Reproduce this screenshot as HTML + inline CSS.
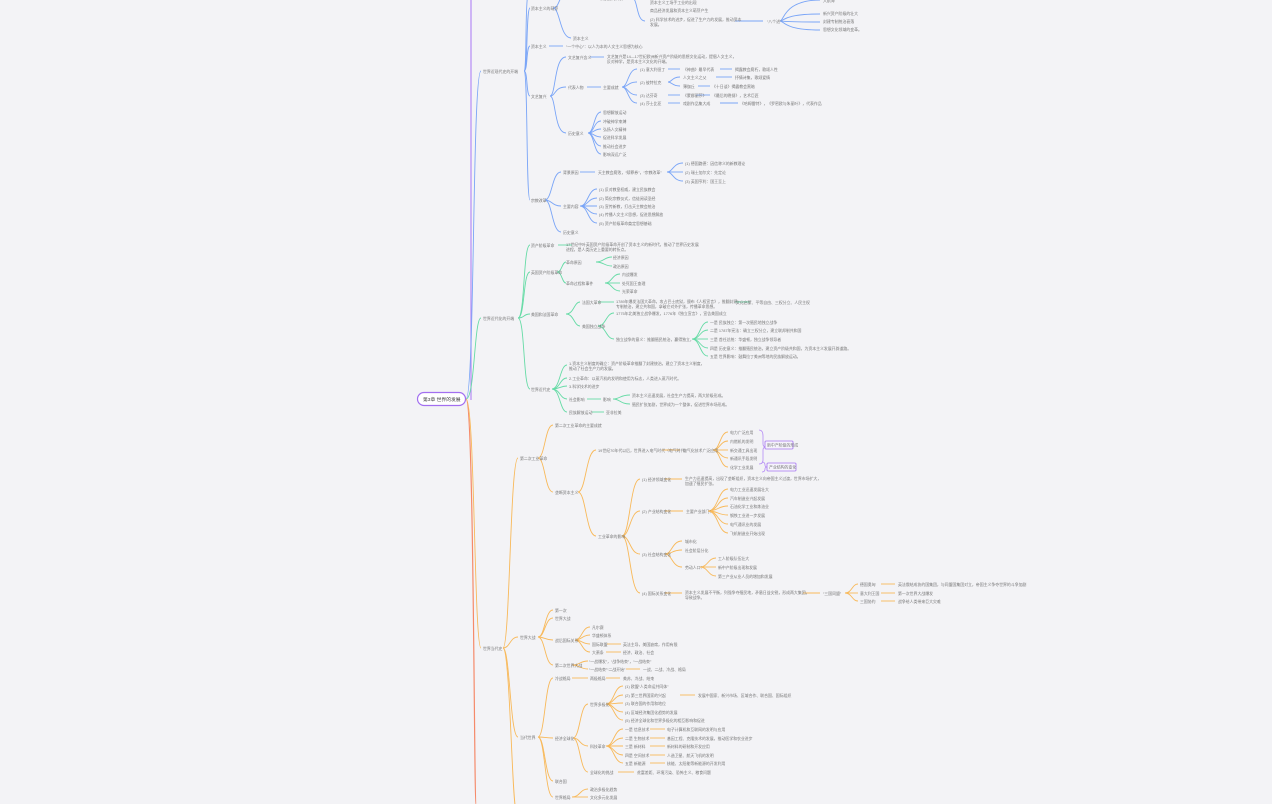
<!DOCTYPE html>
<html><head><meta charset="utf-8"><style>
html,body{margin:0;padding:0;background:#f3f3f6;width:1272px;height:804px;overflow:hidden}
svg text{font-family:"Liberation Sans","Noto Sans CJK SC",sans-serif;font-size:3.9px;fill:#777}
.b path{stroke:#7aa5f7;fill:none;stroke-width:0.9}
.g path{stroke:#66dba6;fill:none;stroke-width:0.9}
.o path{stroke:#f8b95a;fill:none;stroke-width:0.9}
</style></head><body>
<svg width="1272" height="804" viewBox="0 0 1272 804" xmlns="http://www.w3.org/2000/svg">
<path d="M471 0 V400" stroke="#b58cf5" stroke-width="1.2" fill="none"/>
<path d="M466 399 C474 399 474 803 476 804" stroke="#f58a6a" stroke-width="1.2" fill="none"/>
<g class="b">
<path d="M466 399 C475 399 472 71 481 71"/>
<path d="M524 71 C528 71 526 8 530 8"/><path d="M524 71 C528 71 526 46 530 46"/><path d="M524 71 C528 71 526 96 530 96"/><path d="M524 71 C528 71 526 200 530 200"/><path d="M524 71 C527 71 525 0 528 -5"/>
<path d="M553 8 C560 8 558 -5 566 -5"/><path d="M553 8 C560 8 560 38 571 38"/>
<path d="M632 -2 C638 -2 636 21 645 21"/>
<path d="M735 21 H763"/><path d="M780 21 C784 21 784 0 820 0"/><path d="M780 21 C784 21 784 14 820 14"/><path d="M780 21 C784 21 784 22 820 22"/><path d="M780 21 C784 21 784 30 820 30"/>
<path d="M549 46 H563"/>
<path d="M550 96 C556 96 554 57 566 57"/><path d="M550 96 C556 96 554 87 566 87"/><path d="M550 96 C556 96 554 133 566 133"/>
<path d="M590 57 H604"/><path d="M587 87 H601"/>
<path d="M622 87 C628 87 628 69 637 69"/><path d="M622 87 C628 87 628 82 637 82"/><path d="M622 87 C628 87 628 95 637 95"/><path d="M622 87 C628 87 628 103 637 103"/>
<path d="M668 69 H680"/><path d="M720 69 H732"/><path d="M668 82 C672 82 672 77 680 77"/><path d="M668 82 C672 82 672 86 680 86"/><path d="M716 77 H732"/><path d="M698 86 H710"/><path d="M668 95 H680"/><path d="M696 95 H710"/><path d="M668 103 H680"/><path d="M720 103 H738"/>
<path d="M588 133 C594 133 594 112 601 112"/><path d="M588 133 C594 133 594 121 601 121"/><path d="M588 133 C594 133 594 129 601 129"/><path d="M588 133 C594 133 594 137 601 137"/><path d="M588 133 C594 133 594 146 601 146"/><path d="M588 133 C594 133 594 154 601 154"/>
<path d="M545 200 C552 200 552 172 561 172"/><path d="M545 200 C552 200 552 206 561 206"/><path d="M545 200 C552 200 552 232 561 232"/>
<path d="M580 172 H595"/><path d="M667 172 C673 172 673 163 683 163"/><path d="M667 172 H683"/><path d="M667 172 C673 172 673 181 683 181"/>
<path d="M580 206 C588 206 588 189 597 189"/><path d="M580 206 C588 206 588 198 597 198"/><path d="M580 206 H597"/><path d="M580 206 C588 206 588 214 597 214"/><path d="M580 206 C588 206 588 223 597 223"/>
</g>
<g class="g">
<path d="M466 399 C475 399 474 318 481 318"/>
<path d="M518 318 C525 318 523 245 530 245"/><path d="M518 318 C525 318 523 272 530 272"/><path d="M518 318 C525 318 523 314 530 314"/><path d="M518 318 C525 318 523 389 530 389"/>
<path d="M558 245 H572"/>
<path d="M557 272 C562 272 562 262 566 262"/><path d="M557 272 C562 272 562 283 566 283"/>
<path d="M596 262 C604 262 604 257 612 257"/><path d="M596 262 C604 262 604 266 612 266"/>
<path d="M605 283 C612 283 612 274 620 274"/><path d="M605 283 H620"/><path d="M605 283 C612 283 612 291 620 291"/>
<path d="M566 314 C574 314 574 302 580 302"/><path d="M566 314 C574 314 574 326 580 326"/>
<path d="M598 302 C606 302 606 302 614 302"/><path d="M735 302 H750"/>
<path d="M598 326 C606 326 606 313 614 313"/><path d="M598 326 C606 326 606 339 614 339"/>
<path d="M692 339 C700 339 700 322 708 322"/><path d="M692 339 C700 339 700 330 708 330"/><path d="M692 339 H708"/><path d="M692 339 C700 339 700 348 708 348"/><path d="M692 339 C700 339 700 356 708 356"/>
<path d="M552 389 C560 389 560 365 567 365"/><path d="M552 389 C560 389 560 378 567 378"/><path d="M552 389 C560 389 560 386 567 386"/><path d="M552 389 C560 389 560 399 567 399"/><path d="M552 389 C560 389 560 412 567 412"/>
<path d="M587 399 H601"/><path d="M613 399 C620 399 620 395 630 395"/><path d="M613 399 C620 399 620 404 630 404"/><path d="M592 412 H604"/>
</g>
<g class="o">
<path d="M466 399 C475 399 474 648 481 648"/>
<path d="M503 648 C510 648 510 458 518 458"/><path d="M503 648 C510 648 510 637 518 637"/><path d="M503 648 C510 648 510 737 518 737"/><path d="M503 648 C510 648 512 804 516 810"/>
<path d="M538 458 C545 458 545 425 553 425"/><path d="M538 458 C545 458 545 492 553 492"/>
<path d="M578 492 C586 492 586 450 596 450"/><path d="M578 492 C586 492 586 536 596 536"/>
<path d="M662 450 H680"/>
<path d="M713 450 C720 450 720 432 728 432"/><path d="M713 450 C720 450 720 441 728 441"/><path d="M713 450 H728"/><path d="M713 450 C720 450 720 458 728 458"/><path d="M713 450 C720 450 720 467 728 467"/>
<path d="M622 536 C630 536 630 479 640 479"/><path d="M622 536 C630 536 630 511 640 511"/><path d="M622 536 C630 536 630 554 640 554"/><path d="M622 536 C630 536 630 593 640 593"/>
<path d="M665 479 H682"/><path d="M665 511 H683"/><path d="M665 554 C672 554 672 541 682 541"/><path d="M665 554 C672 554 672 550 682 550"/><path d="M665 554 C672 554 672 567 682 567"/>
<path d="M708 511 C718 511 718 489 728 489"/><path d="M708 511 C718 511 718 498 728 498"/><path d="M708 511 C718 511 718 506 728 506"/><path d="M708 511 C718 511 718 515 728 515"/><path d="M708 511 C718 511 718 524 728 524"/><path d="M708 511 C718 511 718 533 728 533"/>
<path d="M700 567 C708 567 708 558 716 558"/><path d="M700 567 H716"/><path d="M700 567 C708 567 708 576 716 576"/>
<path d="M665 593 H682"/><path d="M803 593 H820"/><path d="M845 593 C852 593 852 584 858 584"/><path d="M845 593 H858"/><path d="M845 593 C852 593 852 601 858 601"/>
<path d="M881 584 H895"/><path d="M881 593 H895"/><path d="M881 601 H895"/>
<path d="M538 637 C545 637 545 610 553 610"/><path d="M538 637 C545 637 545 618 553 618"/><path d="M538 637 C545 637 545 640 553 640"/><path d="M538 637 C545 637 545 665 553 665"/>
<path d="M575 640 C582 640 582 627 590 627"/><path d="M575 640 C582 640 582 635 590 635"/><path d="M575 640 C582 640 582 644 590 644"/><path d="M575 640 C582 640 582 652 590 652"/>
<path d="M607 644 H621"/><path d="M606 652 H621"/>
<path d="M572 665 C580 665 580 661 588 661"/><path d="M572 665 C580 665 580 669 588 669"/><path d="M626 669 H640"/>
<path d="M538 737 C545 737 545 678 553 678"/><path d="M538 737 C545 737 545 738 553 738"/><path d="M538 737 C545 737 545 781 553 781"/><path d="M538 737 C545 737 545 797 553 797"/>
<path d="M572 678 H588"/><path d="M606 678 H620"/>
<path d="M573 738 C580 738 580 704 588 704"/><path d="M573 738 C580 738 580 746 588 746"/><path d="M573 738 C580 738 580 772 588 772"/>
<path d="M606 704 C614 704 614 686 623 686"/><path d="M606 704 C614 704 614 695 623 695"/><path d="M606 704 C614 704 614 703 623 703"/><path d="M606 704 C614 704 614 712 623 712"/><path d="M606 704 C614 704 614 720 623 720"/>
<path d="M680 695 H695"/>
<path d="M606 746 C614 746 614 729 623 729"/><path d="M606 746 C614 746 614 738 623 738"/><path d="M606 746 H623"/><path d="M606 746 C614 746 614 755 623 755"/><path d="M606 746 C614 746 614 763 623 763"/>
<path d="M650 729 H665"/><path d="M650 738 H665"/><path d="M650 746 H665"/><path d="M650 755 H665"/><path d="M650 763 H665"/>
<path d="M618 772 H634"/>
<path d="M572 797 C580 797 580 789 588 789"/><path d="M572 797 H588"/>
</g>
<path d="M759 430 Q763 430 763 436 V444 Q763 447 766 447 Q763 447 763 450 V460 Q763 464 759 464" stroke="#b58cf5" fill="none" stroke-width="0.8"/>
<path d="M762 462 Q765 462 765 465 Q765 467 767 467 Q765 467 765 469 Q765 472 762 472" stroke="#b58cf5" fill="none" stroke-width="0.8"/>
<rect x="765" y="441" width="28" height="8" rx="1" fill="#f5f3fb" stroke="#a675f0" stroke-width="0.8"/>
<rect x="767" y="463" width="29" height="8" rx="1" fill="#f5f3fb" stroke="#a675f0" stroke-width="0.8"/>
<text x="767" y="446.5">新中产阶级的形成</text>
<text x="769" y="468.5">产业结构的变化</text>
<rect x="417.5" y="392.5" width="48" height="13" rx="6.5" fill="#fff" stroke="#a26ff0" stroke-width="1.2"/>
<text x="423" y="401" style="font-size:4.8px;fill:#444">第3章 世界的发展</text>
<g>
<text x="483" y="73">世界近现代史的开端</text>
<text x="531" y="10">资本主义的萌芽</text><text x="600" y="0">新航路的开辟</text>
<text x="650" y="4">资本主义工场手工业的出现</text><text x="650" y="12">商品经济发展和资本主义萌芽产生</text>
<text x="650" y="21">(2) 科学技术的进步，促进了生产力的发展，推动资本</text><text x="650" y="26">发展。</text>
<text x="767" y="23">“八个进”</text>
<text x="823" y="2">大航海</text><text x="823" y="15">新兴资产阶级的壮大</text><text x="823" y="23">封建专制统治衰落</text><text x="823" y="31">思想文化领域的变革。</text>
<text x="573" y="40">资本主义</text>
<text x="531" y="48">资本主义</text><text x="566" y="48">“一个中心”：以人为本的人文主义思想为核心</text>
<text x="531" y="98">文艺复兴</text>
<text x="568" y="59">文艺复兴含义</text><text x="607" y="58">文艺复兴是14—17世纪欧洲新兴资产阶级的思想文化运动，提倡人文主义，</text><text x="607" y="63">反对神学，是资本主义文化的开端。</text>
<text x="568" y="89">代表人物</text><text x="603" y="89">主要成就</text>
<text x="640" y="71">(1) 意大利但丁</text><text x="683" y="71">《神曲》最早代表</text><text x="735" y="71">揭露教会腐朽，歌颂人性</text>
<text x="640" y="84">(2) 彼特拉克</text><text x="683" y="79">人文主义之父</text><text x="735" y="79">抒情诗集，歌颂爱情</text><text x="683" y="88">薄伽丘</text><text x="712" y="88">《十日谈》揭露教会黑暗</text>
<text x="640" y="97">(3) 达芬奇</text><text x="683" y="97">《蒙娜丽莎》</text><text x="712" y="97">《最后的晚餐》，艺术巨匠</text>
<text x="640" y="105">(4) 莎士比亚</text><text x="683" y="105">戏剧作品集大成</text><text x="740" y="105">《哈姆雷特》，《罗密欧与朱丽叶》，代表作品</text>
<text x="568" y="135">历史意义</text>
<text x="603" y="114">思想解放运动</text><text x="603" y="123">冲破神学束缚</text><text x="603" y="131">弘扬人文精神</text><text x="603" y="139">促进科学发展</text><text x="603" y="148">推动社会进步</text><text x="603" y="156">影响深远广泛</text>
<text x="531" y="202">宗教改革</text>
<text x="563" y="174">背景原因</text><text x="598" y="174">天主教会腐败，“赎罪券”，“宗教改革”</text>
<text x="685" y="165">(1) 德国路德：因信称义的新教理论</text><text x="685" y="174">(2) 瑞士加尔文：先定论</text><text x="685" y="183">(3) 英国亨利：国王至上</text>
<text x="563" y="208">主要内容</text>
<text x="599" y="191">(1) 反对教皇权威，建立民族教会</text><text x="599" y="200">(2) 简化宗教仪式，信徒阅读圣经</text><text x="599" y="208">(3) 宣传新教，打击天主教会统治</text><text x="599" y="216">(4) 传播人文主义思想，促进思想解放</text><text x="599" y="225">(5) 资产阶级革命奠定思想基础</text>
<text x="563" y="234">历史意义</text>
</g>
<g>
<text x="483" y="320">世界近代化的开端</text>
<text x="531" y="247">资产阶级革命</text><text x="566" y="246">17世纪中叶英国资产阶级革命开创了资本主义的新时代，推动了世界历史发展</text><text x="566" y="251">进程，是人类历史上重要的转折点。</text>
<text x="531" y="274">英国资产阶级革命</text>
<text x="566" y="264">革命原因</text><text x="613" y="259">经济原因</text><text x="613" y="268">政治原因</text>
<text x="566" y="285">革命过程和事件</text><text x="622" y="276">内战爆发</text><text x="622" y="285">处死国王查理</text><text x="622" y="293">光荣革命</text>
<text x="531" y="316">美国和法国革命</text>
<text x="582" y="304">法国大革命</text><text x="616" y="303">1789年爆发法国大革命，攻占巴士底狱，颁布《人权宣言》，推翻封建</text><text x="616" y="308">专制统治，建立共和国，拿破仑对外扩张，传播革命思想。</text>
<text x="736" y="304">文化启蒙、平等自由、三权分立、人民主权</text>
<text x="582" y="328">美国独立战争</text><text x="616" y="315">1775年北美独立战争爆发，1776年《独立宣言》，宣告美国成立</text>
<text x="616" y="341">独立战争的意义：推翻殖民统治，赢得独立，</text>
<text x="710" y="324">一是 民族独立：第一次殖民地独立战争</text><text x="710" y="332">二是 1787年宪法：确立三权分立，建立联邦制共和国</text><text x="710" y="341">三是 首任总统：华盛顿，独立战争领导者</text><text x="710" y="350">四是 历史意义：推翻殖民统治，建立资产阶级共和国，为资本主义发展开辟道路。</text><text x="710" y="358">五是 世界影响：鼓舞拉丁美洲等地的民族解放运动。</text>
<text x="531" y="391">世界近代史</text>
<text x="569" y="365">1.资本主义制度的确立：资产阶级革命推翻了封建统治，建立了资本主义制度，</text><text x="569" y="370">推动了社会生产力的发展。</text>
<text x="569" y="380">2.工业革命：以蒸汽机的发明和使用为标志，人类进入蒸汽时代。</text><text x="569" y="388">3.科学技术的进步</text>
<text x="569" y="401">社会影响</text><text x="603" y="401">影响</text><text x="632" y="397">资本主义迅速发展，社会生产力提高，两大阶级形成。</text><text x="632" y="406">殖民扩张加剧，世界成为一个整体，促进世界市场形成。</text>
<text x="569" y="414">民族解放运动</text><text x="606" y="414">亚非拉美</text>
</g>
<g>
<text x="483" y="650">世界当代史</text>
<text x="520" y="460">第二次工业革命</text>
<text x="555" y="427">第二次工业革命的主要成就</text>
<text x="555" y="494">垄断资本主义</text>
<text x="598" y="452">19世纪70年代以后，世界进入电气时代（电气时代）</text><text x="683" y="452">电气化技术广泛应用</text>
<text x="730" y="434">电力广泛应用</text><text x="730" y="443">内燃机的发明</text><text x="730" y="452">新交通工具出现</text><text x="730" y="460">新通讯手段发明</text><text x="730" y="469">化学工业发展</text>
<text x="598" y="538">工业革命的影响</text>
<text x="642" y="481">(1) 经济领域变化</text><text x="685" y="480">生产力迅速提高，出现了垄断组织，资本主义向帝国主义过渡，世界市场扩大，</text><text x="685" y="485">加速了殖民扩张。</text>
<text x="642" y="513">(2) 产业结构变化</text><text x="686" y="513">主要产业部门：</text>
<text x="730" y="491">电力工业迅速发展壮大</text><text x="730" y="500">汽车制造业兴起发展</text><text x="730" y="508">石油化学工业和炼油业</text><text x="730" y="517">钢铁工业进一步发展</text><text x="730" y="526">电气通讯业的发展</text><text x="730" y="535">飞机制造业开始出现</text>
<text x="642" y="556">(3) 社会结构变化</text><text x="685" y="543">城市化</text><text x="685" y="552">社会阶层分化</text><text x="685" y="569">劳动人口：</text>
<text x="718" y="560">工人阶级队伍壮大</text><text x="718" y="569">新中产阶级出现和发展</text><text x="718" y="578">第三产业从业人员的增加和发展</text>
<text x="642" y="595">(4) 国际关系变化</text><text x="685" y="594">资本主义发展不平衡，列强争夺殖民地，矛盾日益尖锐，形成两大集团，</text><text x="685" y="599">导致战争。</text>
<text x="823" y="595">“三国同盟”</text>
<text x="860" y="586">德国奥匈</text><text x="860" y="595">意大利王国</text><text x="860" y="603">三国协约</text>
<text x="898" y="586">英法俄结成协约国集团，与同盟国集团对立，帝国主义争夺世界的斗争加剧</text><text x="898" y="595">第一次世界大战爆发</text><text x="898" y="603">战争给人类带来巨大灾难</text>
<text x="520" y="639">世界大战</text>
<text x="555" y="612">第一次</text><text x="555" y="620">世界大战</text><text x="555" y="642">战后国际关系</text>
<text x="592" y="629">凡尔赛</text><text x="592" y="637">华盛顿体系</text><text x="592" y="646">国际联盟</text><text x="623" y="646">英法主导，美国缺席，作用有限</text><text x="592" y="654">大萧条</text><text x="623" y="654">经济、政治、社会</text>
<text x="555" y="667">第二次世界大战</text><text x="589" y="663">“一战爆发”，“战争结束”，“一战结束”</text><text x="589" y="671">“一战结束”“二战开始”</text><text x="643" y="671">一战、二战、冷战、格局</text>
<text x="520" y="739">当代世界</text>
<text x="555" y="680">冷战格局</text><text x="590" y="680">两极格局</text><text x="623" y="680">美苏、冷战、结束</text>
<text x="555" y="740">经济全球化</text>
<text x="590" y="706">世界多极化</text>
<text x="625" y="688">(1) 欧盟“人类命运共同体”</text><text x="625" y="697">(2) 第三世界国家的兴起</text><text x="698" y="697">发展中国家、新兴市场、区域合作、联合国、国际组织</text><text x="625" y="705">(3) 联合国的作用和地位</text><text x="625" y="714">(4) 区域经济集团化趋势的发展</text><text x="625" y="722">(5) 经济全球化和世界多极化的相互影响和促进</text>
<text x="590" y="748">科技革命</text>
<text x="625" y="731">一是 信息技术</text><text x="667" y="731">电子计算机和互联网的发明与应用</text><text x="625" y="740">二是 生物技术</text><text x="667" y="740">基因工程、克隆技术的发展，推动医学和农业进步</text><text x="625" y="748">三是 新材料</text><text x="667" y="748">新材料的研制和开发应用</text><text x="625" y="757">四是 空间技术</text><text x="667" y="757">人造卫星、航天飞机的发明</text><text x="625" y="765">五是 新能源</text><text x="667" y="765">核能、太阳能等新能源的开发利用</text>
<text x="590" y="774">全球化的挑战</text><text x="637" y="774">贫富差距、环境污染、恐怖主义、粮食问题</text>
<text x="555" y="783">联合国</text>
<text x="555" y="799">世界格局</text><text x="590" y="791">政治多极化趋势</text><text x="590" y="799">文化多元化发展</text>
</g>
</svg>
</body></html>
